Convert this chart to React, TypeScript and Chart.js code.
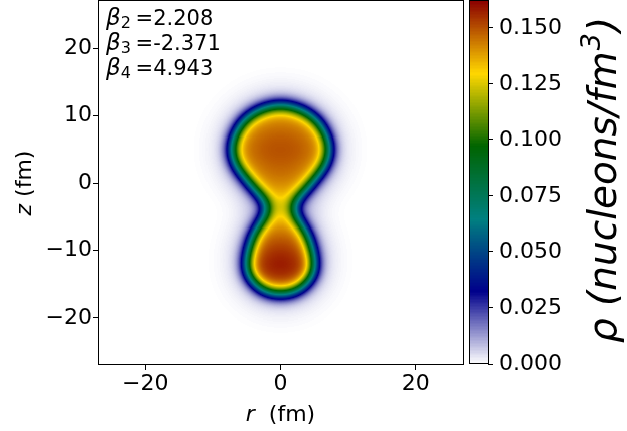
import React, { useEffect, useRef } from 'react';
import { Chart, registerables } from 'chart.js';

Chart.register(...registerables);

// ---------- data ----------
const axisMin = -27;
const axisMax = 27;
const xTicks = [-20, 0, 20];
const yTicks = [-20, -10, 0, 10, 20];
const cbTicks = [0, 0.025, 0.05, 0.075, 0.1, 0.125, 0.15];
const rhoMax = 0.162;

const betaIndex = ['2', '3', '4'];
const betaValue = ['2.208', '-2.371', '4.943'];

// half-density surface: half width (fm) of the nucleus at height z (fm)
const surfaceZ = [11.6, 11.3, 11.0, 10.5, 10, 9, 8, 7, 6, 5, 4, 3, 2, 1, 0, -1, -2, -3, -3.5, -4.5, -5.5, -6.5, -8, -10, -12, -13, -14, -15, -15.8, -16.3, -16.5];
const surfaceHalfWidth = [0, 1.6, 2.6, 3.7, 4.5, 5.6, 6.3, 6.8, 7.1, 7.2, 7.1, 6.8, 6.2, 5.4, 4.6, 3.7, 2.8, 2.0, 1.9, 2.0, 2.6, 3.3, 4.1, 4.7, 5.0, 4.9, 4.5, 3.7, 2.7, 1.5, 0];
// interior density (nucleons/fm^3) along z
const interiorZ = [12, 5, 0, -2, -3.5, -5, -8, -12.5, -17];
const interiorRho = [0.146, 0.151, 0.146, 0.14, 0.128, 0.14, 0.152, 0.164, 0.156];

// colormap: white -> darkblue -> teal -> darkgreen -> gold -> darkred
const cmapColors = [
  [255, 255, 255],
  [0, 0, 139],
  [0, 128, 128],
  [0, 100, 0],
  [255, 215, 0],
  [139, 0, 0],
];

const FONT = '"DejaVu Sans", "Noto Sans", sans-serif';

function interp(xs: number[], ys: number[], x: number): number {
  for (let i = 0; i < xs.length - 1; i++) {
    const a = xs[i], b = xs[i + 1];
    const lo = Math.min(a, b), hi = Math.max(a, b);
    if (x >= lo && x <= hi) {
      const t = b === a ? 0 : (x - a) / (b - a);
      return ys[i] + t * (ys[i + 1] - ys[i]);
    }
  }
  const first = xs[0], last = xs[xs.length - 1];
  return Math.abs(x - first) < Math.abs(x - last) ? ys[0] : ys[ys.length - 1];
}

function cmap(v: number): string {
  let t = v / rhoMax;
  if (t < 0) t = 0;
  if (t > 1) t = 1;
  const n = cmapColors.length - 1;
  let seg = Math.floor(t * n);
  if (seg >= n) seg = n - 1;
  const f = t * n - seg;
  const c0 = cmapColors[seg], c1 = cmapColors[seg + 1];
  const r = Math.round(c0[0] + (c1[0] - c0[0]) * f);
  const g = Math.round(c0[1] + (c1[1] - c0[1]) * f);
  const b = Math.round(c0[2] + (c1[2] - c0[2]) * f);
  return `rgb(${r},${g},${b})`;
}

function blur(src: Float32Array, n: number, sigma: number, horizontal: boolean): Float32Array {
  const r = Math.ceil(sigma * 3);
  const k = new Float32Array(2 * r + 1);
  let s = 0;
  for (let i = -r; i <= r; i++) {
    k[i + r] = Math.exp(-(i * i) / (2 * sigma * sigma));
    s += k[i + r];
  }
  for (let i = 0; i < k.length; i++) k[i] /= s;
  const out = new Float32Array(n * n);
  for (let j = 0; j < n; j++) {
    for (let i = 0; i < n; i++) {
      let acc = 0;
      for (let t = -r; t <= r; t++) {
        const ii = horizontal ? i + t : i;
        const jj = horizontal ? j : j + t;
        if (ii < 0 || ii >= n || jj < 0 || jj >= n) continue;
        const v = src[jj * n + ii];
        if (v !== 0) acc += k[t + r] * v;
      }
      out[j * n + i] = acc;
    }
  }
  return out;
}

const GRID_N = 360;

function computeField() {
  const n = GRID_N;
  const h = (axisMax - axisMin) / n;
  const zTop = Math.max(...surfaceZ);
  const zBot = Math.min(...surfaceZ);
  const src = new Float32Array(n * n);
  for (let j = 0; j < n; j++) {
    const z = axisMin + (j + 0.5) * h;
    if (z > zTop || z < zBot) continue;
    const w = interp(surfaceZ, surfaceHalfWidth, z);
    const rho = interp(interiorZ, interiorRho, z);
    for (let i = 0; i < n; i++) {
      const r = axisMin + (i + 0.5) * h;
      if (Math.abs(r) <= w) src[j * n + i] = rho;
    }
  }
  const s1 = 1.0 / h;
  const s2 = 2.5 / h;
  const a = blur(blur(src, n, s1, true), n, s1, false);
  const b = blur(blur(src, n, s2, true), n, s2, false);
  const out = new Float32Array(n * n);
  for (let i = 0; i < out.length; i++) out[i] = 0.8 * a[i] + 0.2 * b[i];
  return { n, h, field: out };
}

export default function App() {
  const mainRef = useRef<HTMLCanvasElement | null>(null);
  const cbRef = useRef<HTMLCanvasElement | null>(null);

  useEffect(() => {
    const { n, h, field } = computeField();
    const levels = 512;
    const palette: string[] = [];
    for (let k = 0; k <= levels; k++) palette.push(cmap((k / levels) * rhoMax));

    const heatmapPlugin = {
      id: 'heatmap',
      beforeDatasetsDraw(chart: any) {
        const { ctx, chartArea, scales } = chart;
        const xs = scales.x, ys = scales.y;
        const xp: number[] = [];
        const yp: number[] = [];
        for (let i = 0; i <= n; i++) {
          xp.push(Math.round(xs.getPixelForValue(axisMin + i * h)));
          yp.push(Math.round(ys.getPixelForValue(axisMin + i * h)));
        }
        ctx.save();
        ctx.beginPath();
        ctx.rect(chartArea.left, chartArea.top, chartArea.right - chartArea.left, chartArea.bottom - chartArea.top);
        ctx.clip();
        for (let j = 0; j < n; j++) {
          for (let i = 0; i < n; i++) {
            const v = field[j * n + i];
            if (v < 0.0002) continue;
            let k = Math.round((v / rhoMax) * levels);
            if (k > levels) k = levels;
            ctx.fillStyle = palette[k];
            ctx.fillRect(xp[i], yp[j + 1], xp[i + 1] - xp[i], yp[j] - yp[j + 1]);
          }
        }
        ctx.restore();
      },
      afterDraw(chart: any) {
        const { ctx, chartArea } = chart;
        const l = Math.round(chartArea.left), r = Math.round(chartArea.right);
        const t = Math.round(chartArea.top), b = Math.round(chartArea.bottom);
        ctx.save();
        ctx.strokeStyle = '#000';
        ctx.lineWidth = 1;
        ctx.strokeRect(l + 0.5, t - 0.5, r - l, b - t);

        // beta annotations
        ctx.fillStyle = '#000';
        ctx.textBaseline = 'alphabetic';
        ctx.textAlign = 'left';
        for (let i = 0; i < betaIndex.length; i++) {
          const base = 25 + i * 25;
          let x = 106;
          ctx.font = `italic 23px ${FONT}`;
          ctx.fillText('\u03b2', x, base);
          x += ctx.measureText('\u03b2').width;
          ctx.font = `16px ${FONT}`;
          ctx.fillText(betaIndex[i], x, base + 3);
          x += ctx.measureText(betaIndex[i]).width;
          ctx.font = `21px ${FONT}`;
          ctx.fillText(' =' + betaValue[i], x - 2, base);
        }

        // x axis title: r (fm)
        const cx = (chartArea.left + chartArea.right) / 2;
        ctx.font = `italic 22px ${FONT}`;
        const wr = ctx.measureText('r').width;
        ctx.font = `22px ${FONT}`;
        const wf = ctx.measureText('  (fm)').width;
        let x0 = cx - (wr + wf) / 2;
        ctx.font = `italic 22px ${FONT}`;
        ctx.fillText('r', x0, 421);
        ctx.font = `22px ${FONT}`;
        ctx.fillText('  (fm)', x0 + wr, 421);

        // y axis title: z (fm)
        ctx.translate(31, (chartArea.top + chartArea.bottom) / 2);
        ctx.rotate(-Math.PI / 2);
        ctx.font = `italic 22px ${FONT}`;
        const wz = ctx.measureText('z').width;
        ctx.font = `22px ${FONT}`;
        const wf2 = ctx.measureText(' (fm)').width;
        x0 = -(wz + wf2) / 2;
        ctx.font = `italic 22px ${FONT}`;
        ctx.fillText('z', x0, 0);
        ctx.font = `22px ${FONT}`;
        ctx.fillText(' (fm)', x0 + wz, 0);
        ctx.restore();
      },
    };

    const tickFmt = (v: number) => (v < 0 ? '\u2212' + Math.abs(v) : String(v));

    const axisCommon = (ticks: number[], isX: boolean) => ({
      type: 'linear',
      min: axisMin,
      max: axisMax,
      afterBuildTicks: (s: any) => {
        s.ticks = ticks.map((v) => ({ value: v }));
      },
      afterFit: (s: any) => {
        if (isX) s.height = 66;
        else s.width = 98;
        s.paddingTop = 0;
        s.paddingBottom = 0;
        s.paddingLeft = 0;
        s.paddingRight = 0;
      },
      grid: { display: true, drawOnChartArea: false, drawTicks: true, tickLength: 5, color: '#000', lineWidth: 1 },
      border: { display: false },
      ticks: {
        color: '#000',
        font: { family: FONT, size: 22 },
        padding: 1,
        maxRotation: 0,
        autoSkip: false,
        callback: (v: any) => tickFmt(Number(v)),
      },
    });

    const main = new Chart(mainRef.current as HTMLCanvasElement, {
      type: 'scatter',
      data: { datasets: [{ data: [] }] },
      options: {
        animation: false,
        responsive: false,
        events: [],
        layout: { padding: { left: 0, right: 164, top: 1, bottom: 0 } },
        plugins: { legend: { display: false }, tooltip: { enabled: false } },
        scales: {
          x: axisCommon(xTicks, true) as any,
          y: axisCommon(yTicks, false) as any,
        },
      },
      plugins: [heatmapPlugin],
    });

    const colorbarPlugin = {
      id: 'colorbar',
      beforeDatasetsDraw(chart: any) {
        const { ctx, chartArea, scales } = chart;
        const ys = scales.y;
        const steps = 256;
        const l = Math.round(chartArea.left);
        const r = Math.round(chartArea.right);
        for (let k = 0; k < steps; k++) {
          const v0 = (k / steps) * rhoMax;
          const v1 = ((k + 1) / steps) * rhoMax;
          const y0 = Math.round(ys.getPixelForValue(v1));
          const y1 = Math.round(ys.getPixelForValue(v0));
          ctx.fillStyle = cmap((v0 + v1) / 2);
          ctx.fillRect(l, y0, r - l, y1 - y0);
        }
      },
      afterDraw(chart: any) {
        const { ctx, chartArea } = chart;
        const l = Math.round(chartArea.left), r = Math.round(chartArea.right);
        const t = Math.round(chartArea.top), b = Math.round(chartArea.bottom);
        ctx.save();
        ctx.strokeStyle = '#000';
        ctx.lineWidth = 1;
        ctx.strokeRect(l + 0.5, t - 0.5, r - l, b - t);

        // colorbar label
        ctx.fillStyle = '#000';
        ctx.textBaseline = 'alphabetic';
        ctx.translate(616, 180);
        ctx.rotate(-Math.PI / 2);
        const big = `italic 39px ${FONT}`;
        const small = `italic 27px ${FONT}`;
        const t1 = '\u03c1 (nucleons/fm';
        ctx.font = big;
        const w1 = ctx.measureText(t1).width;
        ctx.font = small;
        const w2 = ctx.measureText('3').width;
        ctx.font = big;
        const w3 = ctx.measureText(')').width;
        let x = -(w1 + w2 + 2 + w3) / 2;
        ctx.font = big;
        ctx.fillText(t1, x, 0);
        x += w1;
        ctx.font = small;
        ctx.fillText('3', x + 1, -16);
        x += w2 + 2;
        ctx.font = big;
        ctx.fillText(')', x, 0);
        ctx.restore();
      },
    };

    const cb = new Chart(cbRef.current as HTMLCanvasElement, {
      type: 'scatter',
      data: { datasets: [{ data: [] }] },
      options: {
        animation: false,
        responsive: false,
        events: [],
        layout: { padding: { left: 469, right: 49, top: 1, bottom: 67 } },
        plugins: { legend: { display: false }, tooltip: { enabled: false } },
        scales: {
          x: { type: 'linear', display: false, min: 0, max: 1 },
          y: {
            type: 'linear',
            position: 'right',
            min: 0,
            max: rhoMax,
            afterBuildTicks: (s: any) => {
              s.ticks = cbTicks.map((v) => ({ value: v }));
            },
            afterFit: (s: any) => {
              s.width = 90;
              s.paddingTop = 0;
              s.paddingBottom = 0;
            },
            grid: { display: true, drawOnChartArea: false, drawTicks: true, tickLength: 5, color: '#000', lineWidth: 1 },
            border: { display: false },
            ticks: {
              color: '#000',
              font: { family: FONT, size: 22 },
              padding: 6,
              autoSkip: false,
              callback: (v: any) => Number(v).toFixed(3),
            },
          } as any,
        },
      },
      plugins: [colorbarPlugin],
    });

    return () => {
      main.destroy();
      cb.destroy();
    };
  }, []);

  return (
    <div style={{ position: 'fixed', left: 0, top: 0, width: 627, height: 431, background: '#fff' }}>
      <canvas ref={mainRef} width={627} height={431} style={{ position: 'absolute', left: 0, top: 0, width: 627, height: 431 }} />
      <canvas ref={cbRef} width={627} height={431} style={{ position: 'absolute', left: 0, top: 0, width: 627, height: 431 }} />
    </div>
  );
}
